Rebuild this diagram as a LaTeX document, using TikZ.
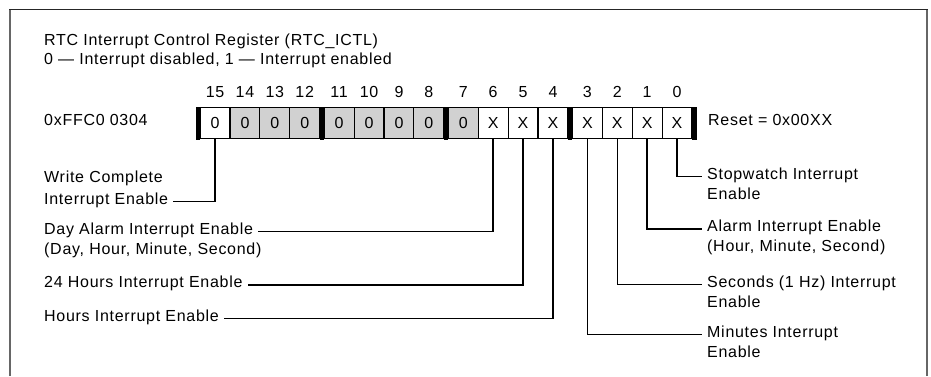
\documentclass[tikz,border=0pt]{standalone}
\usepackage{fontspec}
\setmainfont{Liberation Sans}[LetterSpace=4.5]
\begin{document}
\begin{tikzpicture}[x=1pt,y=-1pt,
  every node/.style={font=\fontsize{16}{19}\selectfont},
  bitbox/.style={draw, line width=1.1pt, minimum width=29.9pt, minimum height=31.4pt, inner sep=0pt},
  lbl/.style={inner sep=0pt, text height=1.1ex, text depth=0pt},
  leader/.style={line width=1.4pt},
  graybit/.style={fill=black!18}]
\useasboundingbox (0,0) rectangle (931,376);
\draw[black!60, line width=1.4pt] (10,376) -- (10,9.5);
\draw[black!60, line width=1.4pt] (927,376) -- (927,9.5);
\draw[black!85, line width=1.6pt] (9.3,9.5) -- (927.7,9.5);
% titles
\node[lbl, anchor=west] (t1) at (44,43) {RTC Interrupt Control Register (RTC\_ICTL)};
\node[lbl, anchor=west] (t2) at (44,62) {0 — Interrupt disabled, 1 — Interrupt enabled};
\node[lbl, anchor=west] (addr) at (44,123) {0xFFC0 0304};
% bits
\foreach \b in {15,...,0} {
  \pgfmathtruncatemacro\i{15-\b}
  \pgfmathtruncatemacro\n{floor(\i/4)}
  \pgfmathsetmacro\xc{200.1+124.1*\n+29.9*(\i-4*\n)+14.95}
  \ifnum\b>6
    \ifnum\b<15
      \node[bitbox, graybit] (b\b) at (\xc,123) {0};
    \else
      \node[bitbox] (b\b) at (\xc,123) {0};
    \fi
  \else
    \node[bitbox] (b\b) at (\xc,123) {X};
  \fi
  \node[lbl] (n\b) at (\xc,95) {\b};
}
% thick nibble bars
\foreach \n in {0,...,4} {
  \fill (195.7+124.1*\n,107.3) rectangle +(4.4,33);
}
\node[lbl, anchor=west] (reset) at (708,123) {Reset = 0x00XX};
% left labels
\node[lbl, anchor=west] (wc1) at (44,179.5) {Write Complete};
\node[lbl, anchor=west] (wc2) at (44,201.5) {Interrupt Enable};
\node[lbl, anchor=west] (da1) at (44,231.5) {Day Alarm Interrupt Enable};
\node[lbl, anchor=west] (da2) at (44,251.5) {(Day, Hour, Minute, Second)};
\node[lbl, anchor=west] (h24) at (44,285) {24 Hours Interrupt Enable};
\node[lbl, anchor=west] (hr) at (44,318.5) {Hours Interrupt Enable};
% right labels
\node[lbl, anchor=west] (sw1) at (707,176.7) {Stopwatch Interrupt};
\node[lbl, anchor=west] (sw2) at (707,196.7) {Enable};
\node[lbl, anchor=west] (al1) at (707,229) {Alarm Interrupt Enable};
\node[lbl, anchor=west] (al2) at (707,249) {(Hour, Minute, Second)};
\node[lbl, anchor=west] (se1) at (707,284.3) {Seconds (1 Hz) Interrupt};
\node[lbl, anchor=west] (se2) at (707,304.3) {Enable};
\node[lbl, anchor=west] (mi1) at (707,334.3) {Minutes Interrupt};
\node[lbl, anchor=west] (mi2) at (707,354.3) {Enable};
% leaders
\draw[leader] (b15.south) |- ([xshift=5pt]wc2.east);
\draw[leader] (b6.south) |- ([xshift=5pt]da1.east);
\draw[leader] (b5.south) |- ([xshift=5pt]h24.east);
\draw[leader] (b4.south) |- ([xshift=5pt]hr.east);
\draw[leader] (b0.south) |- ([xshift=-5pt]sw1.west);
\draw[leader] (b1.south) |- ([xshift=-5pt]al1.west);
\draw[leader] (b2.south) |- ([xshift=-5pt]se1.west);
\draw[leader] (b3.south) |- ([xshift=-5pt]mi1.west);
\end{tikzpicture}
\end{document}
